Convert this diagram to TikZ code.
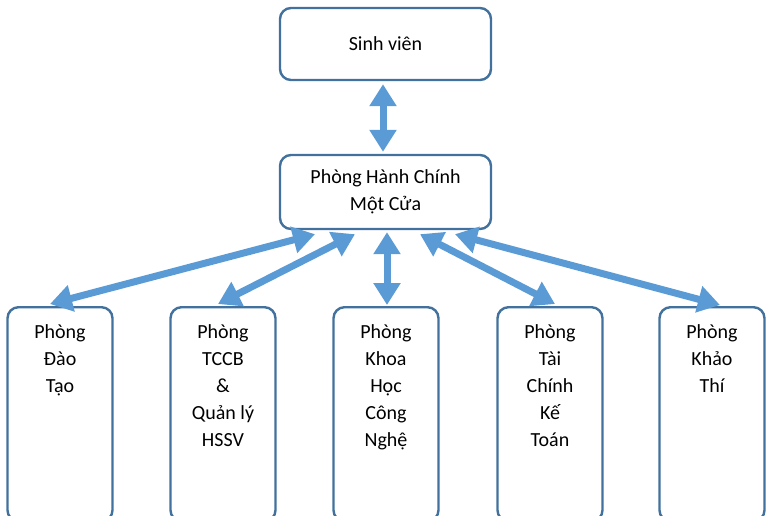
\documentclass[tikz,border=0pt]{standalone}
\usepackage{fontspec}
\setmainfont{Carlito}
\usetikzlibrary{arrows.meta}
\definecolor{boxline}{HTML}{41719C}
\definecolor{arrowblue}{HTML}{5B9BD5}
\begin{document}
\begin{tikzpicture}[x=1pt,y=-1pt,
  box/.style={draw=boxline, line width=2.4pt, rounded corners=11pt, fill=white, inner sep=0pt},
  unit/.style={box, minimum width=105pt, minimum height=214pt, anchor=north},
  txt/.style={align=center, inner sep=0pt, font=\fontsize{20}{27}\selectfont},
  link/.style={draw=arrowblue, line width=7pt,
    {Triangle[width=26pt,length=22pt]}-{Triangle[width=26pt,length=22pt]}}]
\useasboundingbox (0,0) rectangle (766,515);
\clip (0,0) rectangle (766,515);
% upper level
\node[box, minimum width=211pt, minimum height=72pt] (sv) at (385.5,44) {};
\node[txt] (svt) at (sv.center) {Sinh viên};
\node[box, minimum width=211pt, minimum height=74pt] (mc) at (385.5,192) {};
\node[txt] (mct) at (mc.center) {Phòng Hành Chính\\Một Cửa};
% departments
\node[unit] (d1) at (60,306) {};
\node[unit] (d2) at (223,306) {};
\node[unit] (d3) at (386,306) {};
\node[unit] (d4) at (550,306) {};
\node[unit] (d5) at (712,306) {};
\node[txt, anchor=north] (t1) at ([yshift=-18pt]d1.north) {Phòng\\Đào\\Tạo};
\node[txt, anchor=north] (t2) at ([yshift=-18pt]d2.north) {Phòng\\TCCB\\\&\\Quản lý\\HSSV};
\node[txt, anchor=north] (t3) at ([yshift=-18pt]d3.north) {Phòng\\Khoa\\Học\\Công\\Nghệ};
\node[txt, anchor=north] (t4) at ([yshift=-18pt]d4.north) {Phòng\\Tài\\Chính\\Kế\\Toán};
\node[txt, anchor=north] (t5) at ([yshift=-18pt]d5.north) {Phòng\\Khảo\\Thí};
% two-way links
\draw[link] ([xshift=-2.5pt,yshift=-3pt]sv.south) -- ([xshift=-2.5pt,yshift=2pt]mc.north);
\draw[link] ([xshift=-70.5pt,yshift=-4pt]mc.south) -- ([xshift=-10pt,yshift=2pt]d1.north);
\draw[link] ([xshift=-30.5pt,yshift=-4pt]mc.south) -- ([xshift=-5pt,yshift=2pt]d2.north);
\draw[link] ([xshift=1.5pt,yshift=-2pt]mc.south) -- ([xshift=1pt,yshift=1pt]d3.north);
\draw[link] ([xshift=34.5pt,yshift=-4pt]mc.south) -- ([xshift=5pt,yshift=2pt]d4.north);
\draw[link] ([xshift=69.5pt,yshift=-4pt]mc.south) -- ([xshift=8pt,yshift=1pt]d5.north);
\end{tikzpicture}
\end{document}
